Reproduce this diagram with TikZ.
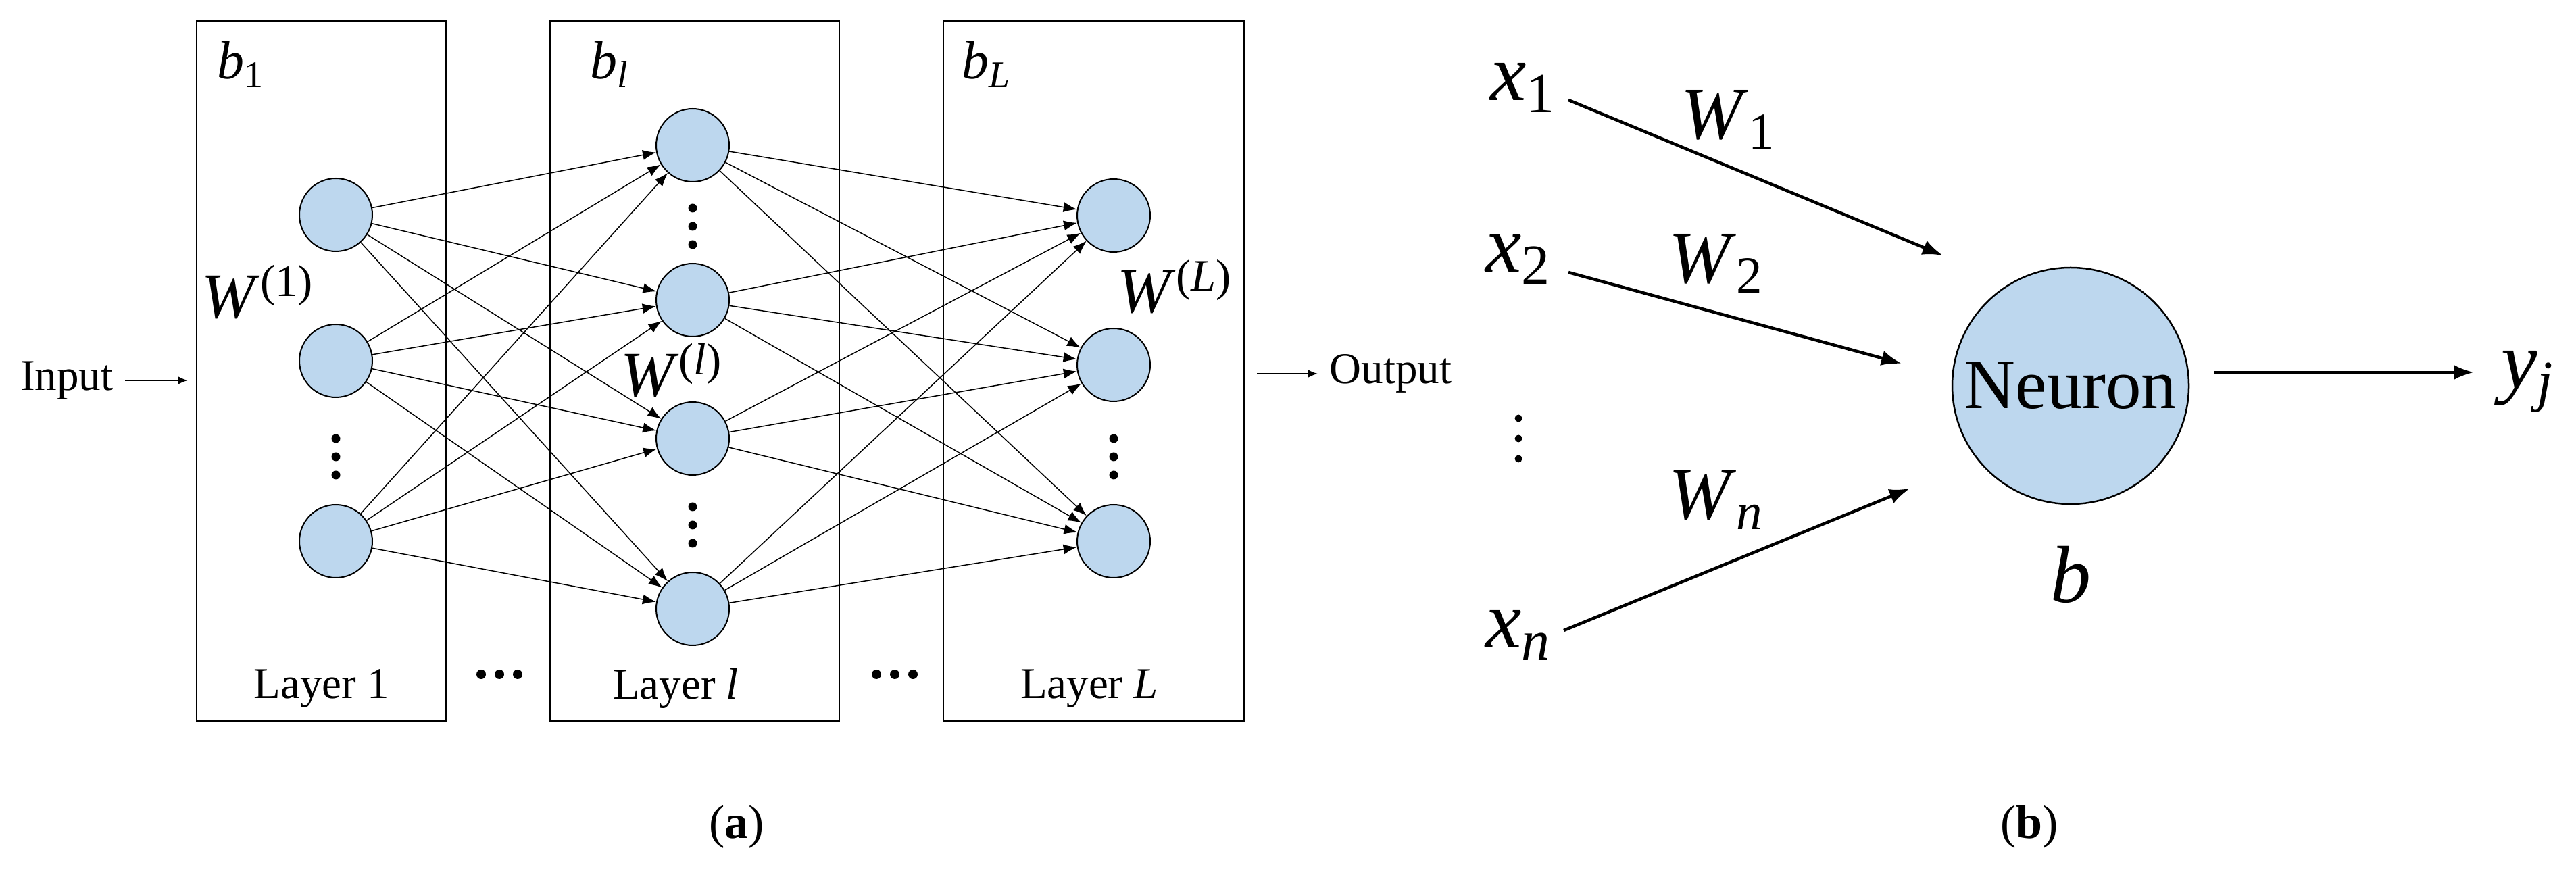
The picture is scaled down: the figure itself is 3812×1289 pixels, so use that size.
\documentclass[tikz,border=0pt]{standalone}
\usepackage{fontspec}
\setmainfont{Liberation Serif}
\usetikzlibrary{arrows.meta}
\newcommand\vsub[2]{\textit{#1}\textsubscript{#2}}
\newcommand\vsup[2]{\textit{#1}\textsuperscript{#2}}
\begin{document}
\begin{tikzpicture}[x=0.2pt,y=-0.2pt,
  neu/.style={circle,draw,fill={rgb,255:red,189;green,215;blue,238},minimum size=21.6pt,inner sep=0pt,line width=0.4pt},
  lay/.style={draw,line width=0.5pt},
  con/.style={line width=0.3pt,-{Latex[length=4pt,width=3pt]}},
  big/.style={line width=0.9pt,-{Latex[length=6pt,width=4.5pt]}}]
\useasboundingbox (0,0) rectangle (3812,1289);
% boxes
\draw[lay] (291,31) rectangle (660,1067);
\draw[lay] (814,31) rectangle (1242,1067);
\draw[lay] (1396,31) rectangle (1841,1067);
% neurons
\foreach \i/\y in {1/318,2/534,3/801} \node[neu] (a\i) at (497,\y) {};
\foreach \i/\y in {1/215,2/444,3/649,4/901} \node[neu] (c\i) at (1025,\y) {};
\foreach \i/\y in {1/319,2/540,3/801} \node[neu] (d\i) at (1648,\y) {};
\foreach \i in {1,2,3}{\foreach \j in {1,2,3,4}{\draw[con] (a\i) -- (c\j);}}
\foreach \j in {1,2,3,4}{\foreach \k in {1,2,3}{\draw[con] (c\j) -- (d\k);}}
% dots
\foreach \x/\y in {497/676,1025/335,1025/777,1648/676}
  \foreach \d in {-27,0,27} \fill (\x,\y+\d) circle (1.3pt);
\foreach \x in {739,1324}
  \foreach \d in {-27,0,27} \fill (\x+\d,998) circle (1.4pt);
\foreach \d in {-30,0,30} \fill (2247,649+\d) circle (1.1pt);
\node[font=\fontsize{16}{16}\selectfont] (b1) at (357,95) {\vsub{b}{1}};
\node[font=\fontsize{16}{16}\selectfont] (bl) at (903,95) {\vsub{b}{\textit{l}}};
\node[font=\fontsize{16}{16}\selectfont] (bL) at (1460,95) {\vsub{b}{\textit{L}}};
\node[font=\fontsize{19}{19}\selectfont] (w1) at (382,432) {\vsup{W}{(1)}};
\node[font=\fontsize{19}{19}\selectfont] (wl) at (994,548) {\vsup{W}{(\textit{l})}};
\node[font=\fontsize{19}{19}\selectfont] (wL) at (1739,424) {\vsup{W}{(\textit{L})}};
\node[font=\fontsize{13}{13}\selectfont] (l1) at (476,1019) {Layer 1};
\node[font=\fontsize{13}{13}\selectfont] (ll) at (1000,1019) {Layer \textit{l}};
\node[font=\fontsize{13}{13}\selectfont] (lL) at (1612,1019) {Layer \textit{L}};
\node[font=\fontsize{13}{13}\selectfont,anchor=east] (in) at (185,563) {Input};
\coordinate (inE) at (278,563);
\draw[line width=0.4pt,-{Latex[length=3pt,width=2.5pt]}] (in) -- (inE);
\node[font=\fontsize{13}{13}\selectfont,anchor=west] (out) at (1950,553) {Output};
\coordinate (outS) at (1860,553);
\draw[line width=0.4pt,-{Latex[length=3pt,width=2.5pt]}] (outS) -- (out);
\node[font=\fontsize{14}{14}\selectfont] (la) at (1090,1224) {(\textbf{a})};
% right panel
\node[font=\fontsize{24}{24}\selectfont] (x1) at (2254,130) {\vsub{x}{1}};
\node[font=\fontsize{24}{24}\selectfont] (x2) at (2247,384) {\vsub{x}{2}};
\node[font=\fontsize{24}{24}\selectfont] (xn) at (2247,940) {\vsub{x}{\textit{n}}};
\node[font=\fontsize{22}{22}\selectfont] (W1) at (2558,177) {\vsub{W}{1}};
\node[font=\fontsize{22}{22}\selectfont] (W2) at (2540,390) {\vsub{W}{2}};
\node[font=\fontsize{22}{22}\selectfont] (Wn) at (2540,740) {\vsub{W}{\textit{n}}};
\node[circle,draw,line width=0.5pt,fill={rgb,255:red,189;green,215;blue,238},minimum size=70pt,inner sep=0pt,font=\fontsize{21}{21}\selectfont] (N) at (3064,571) {Neuron};
\node[font=\fontsize{24}{24}\selectfont] (b) at (3064,850) {\textit{b}};
\node[font=\fontsize{24}{24}\selectfont] (y) at (3741,565) {\vsub{y}{\textit{j}}};
\coordinate (s1) at (2321,148); \coordinate (e1) at (2875,378);
\coordinate (s2) at (2321,403); \coordinate (e2) at (2814,538);
\coordinate (sn) at (2314,933); \coordinate (en) at (2826,723);
\coordinate (so) at (3277,551); \coordinate (eo) at (3661,551);
\draw[big] (s1) -- (e1);
\draw[big] (s2) -- (e2);
\draw[big] (sn) -- (en);
\draw[big] (so) -- (eo);
\node[font=\fontsize{14}{14}\selectfont] (lb) at (3003,1224) {(\textbf{b})};
\end{tikzpicture}
\end{document}
